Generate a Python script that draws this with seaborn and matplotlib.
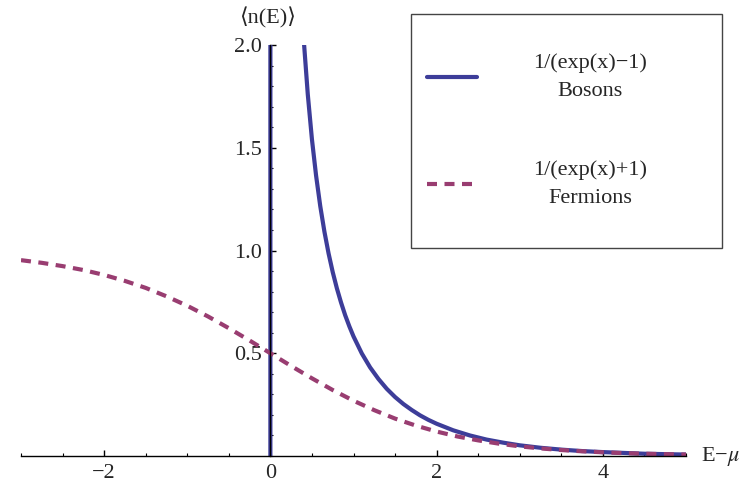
import matplotlib
matplotlib.use("Agg")
import matplotlib.pyplot as plt
from matplotlib.lines import Line2D
from matplotlib.patches import Rectangle
from matplotlib.ticker import MultipleLocator, FixedLocator
import seaborn as sns

# occupation numbers
fermion_x = [-3, -2.75, -2.5, -2.25, -2, -1.75, -1.5, -1.25, -1, -0.75, -0.5, -0.25,
             0, 0.25, 0.5, 0.75, 1, 1.25, 1.5, 1.75, 2, 2.25, 2.5, 2.75, 3, 3.25,
             3.5, 3.75, 4, 4.25, 4.5, 4.75, 5]
fermion_y = [0.953, 0.940, 0.924, 0.905, 0.881, 0.852, 0.818, 0.777, 0.731, 0.679,
             0.622, 0.562, 0.500, 0.438, 0.378, 0.321, 0.269, 0.223, 0.182, 0.148,
             0.119, 0.095, 0.076, 0.060, 0.047, 0.037, 0.029, 0.023, 0.018, 0.014,
             0.011, 0.009, 0.007]

# bosons: negative branch, jump across the pole at 0, then the decaying branch
boson_x = [-3, -1, -0.01, 0.01, 0.3, 0.35, 0.4, 0.45, 0.5, 0.55, 0.6, 0.65, 0.7,
           0.75, 0.8, 0.85, 0.9, 0.95, 1.0, 1.1, 1.2, 1.3, 1.4, 1.5, 1.6, 1.7, 1.8,
           1.9, 2.0, 2.2, 2.4, 2.6, 2.8, 3.0, 3.25, 3.5, 3.75, 4.0, 4.5, 5.0]
boson_y = [-1.052, -1.582, -100.5, 99.5, 2.858, 2.386, 2.033, 1.760, 1.541, 1.364,
           1.216, 1.092, 0.986, 0.895, 0.816, 0.747, 0.685, 0.631, 0.582, 0.499,
           0.431, 0.375, 0.327, 0.287, 0.253, 0.224, 0.198, 0.176, 0.157, 0.125,
           0.100, 0.080, 0.065, 0.052, 0.040, 0.031, 0.024, 0.019, 0.011, 0.007]

labels = ["1/(exp(x)\u22121)\nBosons", "1/(exp(x)+1)\nFermions"]
boson_col = "#3d3d99"
fermion_col = "#993d71"
dash = (0, (2.4, 1.8))

sns.set_style("white")
plt.rcParams["font.family"] = ["Liberation Serif", "DejaVu Serif"]
plt.rcParams["mathtext.fontset"] = "stix"

fig = plt.figure(figsize=(7.52, 4.83), dpi=100)
ax = fig.add_axes([21 / 752, 1 - 456 / 483, 665 / 752, 411 / 483])

sns.lineplot(x=boson_x, y=boson_y, ax=ax, color=boson_col, lw=3.0,
             sort=False, estimator=None)
sns.lineplot(x=fermion_x, y=fermion_y, ax=ax, color=fermion_col, lw=3.0,
             sort=False, estimator=None, linestyle=dash)

ax.set_xlim(-3, 5)
ax.set_ylim(0, 2)

# Mathematica style axes through the origin
ax.spines["left"].set_position(("data", 0))
ax.spines["bottom"].set_position(("data", 0))
ax.spines["right"].set_visible(False)
ax.spines["top"].set_visible(False)
for s in ["left", "bottom"]:
    ax.spines[s].set_color("black")
    ax.spines[s].set_linewidth(1.0)
    ax.spines[s].set_zorder(5)

ax.xaxis.set_major_locator(FixedLocator([-2, 0, 2, 4]))
ax.xaxis.set_minor_locator(MultipleLocator(0.5))
ax.yaxis.set_major_locator(FixedLocator([0.5, 1.0, 1.5, 2.0]))
ax.yaxis.set_minor_locator(MultipleLocator(0.1))
ax.set_xticklabels(["\u22122", "0", "2", "4"])
ax.set_yticklabels(["0.5", "1.0", "1.5", "2.0"])
ax.tick_params(which="both", direction="in", color="black", labelsize=16,
               bottom=True, left=True)
ax.tick_params(which="major", length=4.5, width=1)
ax.tick_params(which="minor", length=2.5, width=0.8)
ax.tick_params(axis="x", which="major", pad=6)
ax.tick_params(axis="y", which="major", pad=6)

fig.text(267 / 752, 1 - 18 / 483, "\u27e8n(E)\u27e9", ha="center", va="center",
         fontsize=16)
fig.text(701 / 752, 1 - 456 / 483, "E\u2212$\\mu$", ha="left", va="center",
         fontsize=16)

# legend box
fig.add_artist(Rectangle((411 / 752, 1 - 248 / 483), 311 / 752, 234 / 483,
                         transform=fig.transFigure, fill=False,
                         edgecolor="#444444", lw=1.0))
fig.add_artist(Line2D([427 / 752, 477 / 752], [1 - 77 / 483, 1 - 77 / 483],
                      transform=fig.transFigure, color=boson_col, lw=3.0))
fig.add_artist(Line2D([427 / 752, 477 / 752], [1 - 184 / 483, 1 - 184 / 483],
                      transform=fig.transFigure, color=fermion_col, lw=3.0,
                      linestyle=dash))
fig.text(590 / 752, 1 - 77 / 483, labels[0], ha="center", va="center",
         multialignment="center", fontsize=16, linespacing=1.6)
fig.text(590 / 752, 1 - 184 / 483, labels[1], ha="center", va="center",
         multialignment="center", fontsize=16, linespacing=1.6)

fig.savefig("out.png", dpi=100)
